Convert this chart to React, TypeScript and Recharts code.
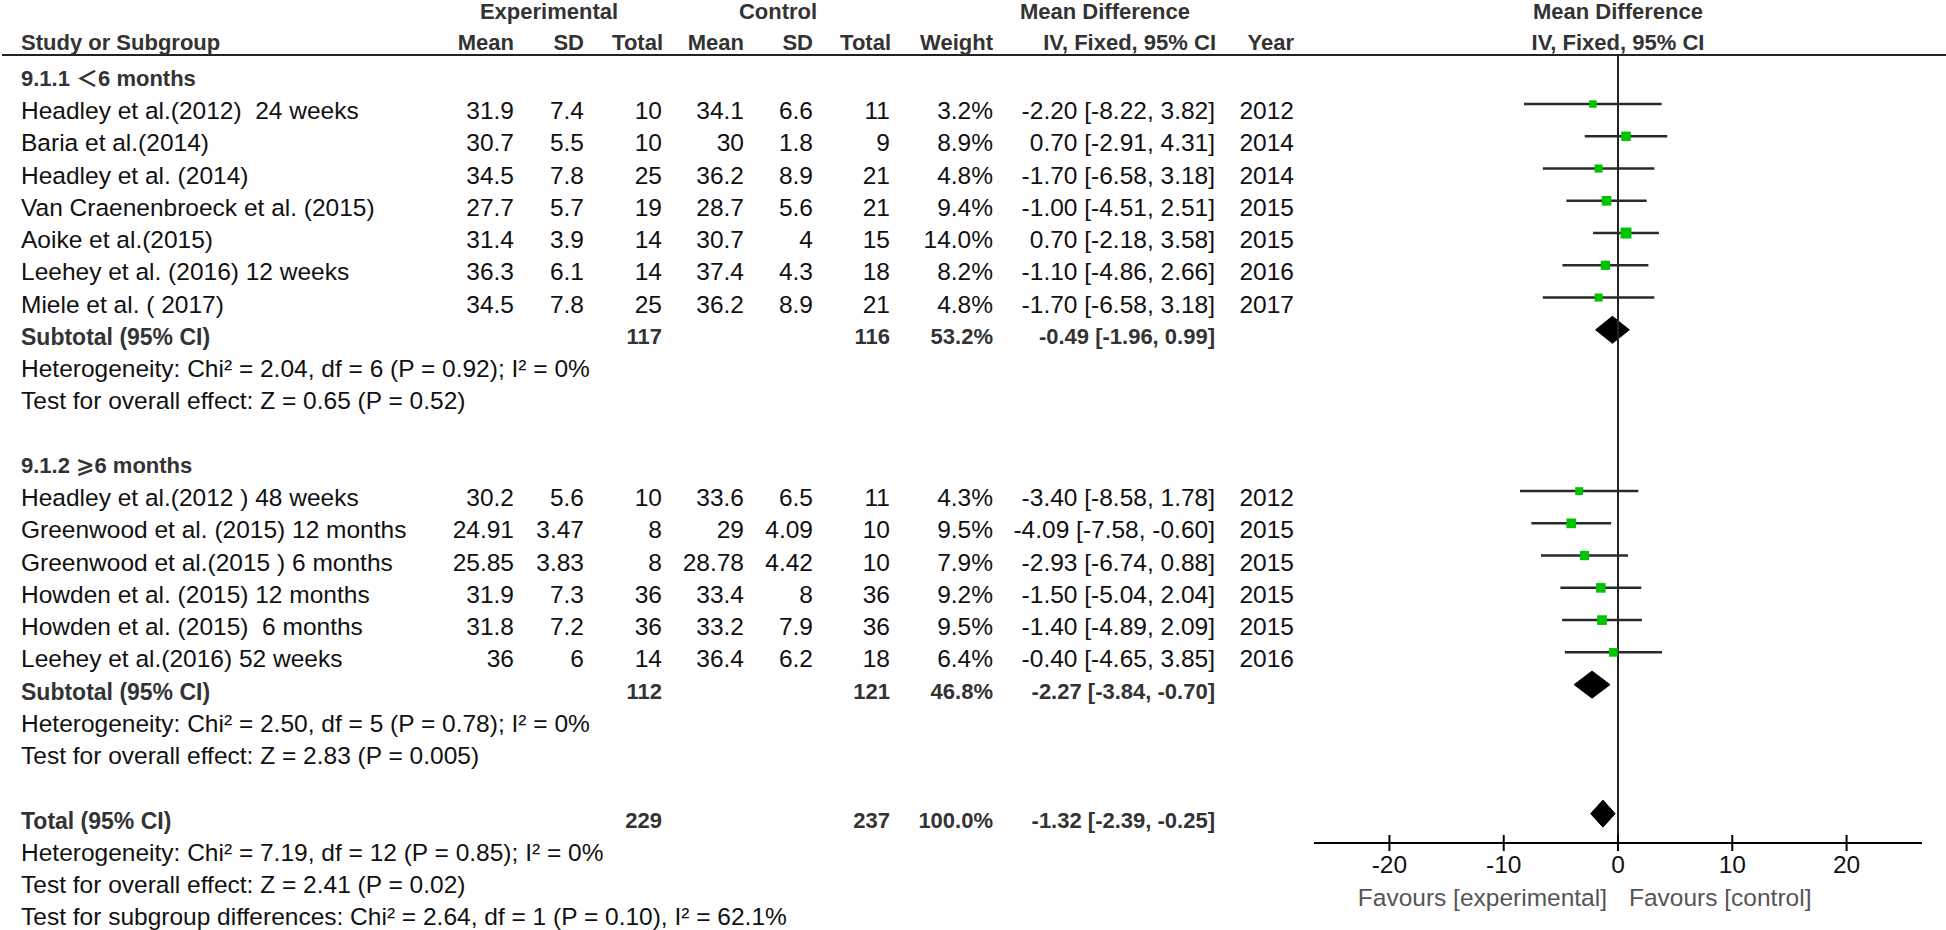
import React from 'react';
import { ComposedChart, XAxis, YAxis, ZAxis, Scatter, Line, Area, ReferenceLine } from 'recharts';

const FONT = '"Liberation Sans", Arial, "Noto Sans CJK SC", "DejaVu Sans", sans-serif';

// ---------- data ----------
const groupTitles = ['9.1.1 \uFF1C6 months', '9.1.2 \u2A7E6 months'];
const studyGroup = [0, 0, 0, 0, 0, 0, 0, 1, 1, 1, 1, 1, 1];
const studyNames = [
  'Headley et al.(2012)  24 weeks',
  'Baria et al.(2014)',
  'Headley et al. (2014)',
  'Van Craenenbroeck et al. (2015)',
  'Aoike et al.(2015)',
  'Leehey et al. (2016) 12 weeks',
  'Miele et al. ( 2017)',
  'Headley et al.(2012 ) 48 weeks',
  'Greenwood et al. (2015) 12 months',
  'Greenwood et al.(2015 ) 6 months',
  'Howden et al. (2015) 12 months',
  'Howden et al. (2015)  6 months',
  'Leehey et al.(2016) 52 weeks',
];
const expMean = [31.9, 30.7, 34.5, 27.7, 31.4, 36.3, 34.5, 30.2, 24.91, 25.85, 31.9, 31.8, 36];
const expSD = [7.4, 5.5, 7.8, 5.7, 3.9, 6.1, 7.8, 5.6, 3.47, 3.83, 7.3, 7.2, 6];
const expTotal = [10, 10, 25, 19, 14, 14, 25, 10, 8, 8, 36, 36, 14];
const ctlMean = [34.1, 30, 36.2, 28.7, 30.7, 37.4, 36.2, 33.6, 29, 28.78, 33.4, 33.2, 36.4];
const ctlSD = [6.6, 1.8, 8.9, 5.6, 4, 4.3, 8.9, 6.5, 4.09, 4.42, 8, 7.9, 6.2];
const ctlTotal = [11, 9, 21, 21, 15, 18, 21, 11, 10, 10, 36, 36, 18];
const weights = [3.2, 8.9, 4.8, 9.4, 14.0, 8.2, 4.8, 4.3, 9.5, 7.9, 9.2, 9.5, 6.4];
const meanDiff = [-2.2, 0.7, -1.7, -1.0, 0.7, -1.1, -1.7, -3.4, -4.09, -2.93, -1.5, -1.4, -0.4];
const ciLow = [-8.22, -2.91, -6.58, -4.51, -2.18, -4.86, -6.58, -8.58, -7.58, -6.74, -5.04, -4.89, -4.65];
const ciHigh = [3.82, 4.31, 3.18, 2.51, 3.58, 2.66, 3.18, 1.78, -0.6, 0.88, 2.04, 2.09, 3.85];
const years = [2012, 2014, 2014, 2015, 2015, 2016, 2017, 2012, 2015, 2015, 2015, 2015, 2016];

const pooledLabels = ['Subtotal (95% CI)', 'Subtotal (95% CI)', 'Total (95% CI)'];
const pooledExpN = [117, 112, 229];
const pooledCtlN = [116, 121, 237];
const pooledWeight = [53.2, 46.8, 100.0];
const pooledMD = [-0.49, -2.27, -1.32];
const pooledLow = [-1.96, -3.84, -2.39];
const pooledHigh = [0.99, -0.7, -0.25];

const groupStats = [
  ['Heterogeneity: Chi\u00B2 = 2.04, df = 6 (P = 0.92); I\u00B2 = 0%', 'Test for overall effect: Z = 0.65 (P = 0.52)'],
  ['Heterogeneity: Chi\u00B2 = 2.50, df = 5 (P = 0.78); I\u00B2 = 0%', 'Test for overall effect: Z = 2.83 (P = 0.005)'],
];
const totalStats = [
  'Heterogeneity: Chi\u00B2 = 7.19, df = 12 (P = 0.85); I\u00B2 = 0%',
  'Test for overall effect: Z = 2.41 (P = 0.02)',
  'Test for subgroup differences: Chi\u00B2 = 2.64, df = 1 (P = 0.10), I\u00B2 = 62.1%',
];
const axisTicks = [-20, -10, 0, 10, 20];
const favoursLabels = ['Favours [experimental]', 'Favours [control]'];

// ---------- layout (row indices) ----------
type RowItem = { kind: string; row: number; idx: number };
const rows: RowItem[] = [];
let r = -1;
groupTitles.forEach((_, g) => {
  rows.push({ kind: 'group', row: r++, idx: g });
  studyGroup.forEach((sg, i) => {
    if (sg === g) rows.push({ kind: 'study', row: r++, idx: i });
  });
  rows.push({ kind: 'pooled', row: r++, idx: g });
  rows.push({ kind: 'stat', row: r++, idx: g * 2 });
  rows.push({ kind: 'stat', row: r++, idx: g * 2 + 1 });
  r++;
});
rows.push({ kind: 'pooled', row: r++, idx: 2 });
totalStats.forEach((_, i) => rows.push({ kind: 'total', row: r++, idx: i }));

const studyRow = (i: number) => rows.find((x) => x.kind === 'study' && x.idx === i)!.row;
const pooledRow = (i: number) => rows.find((x) => x.kind === 'pooled' && x.idx === i)!.row;

const points = meanDiff.map((m, i) => ({ x: m, y: studyRow(i), w: weights[i] }));
const ciSegments = meanDiff.map((_, i) => [
  { x: ciLow[i], y: studyRow(i) },
  { x: ciHigh[i], y: studyRow(i) },
]);
const DH = 0.42;
const diamonds = pooledMD.map((m, i) => {
  const y = pooledRow(i);
  return [
    { x: pooledLow[i], r: [y, y] },
    { x: m, r: [y - DH, y + DH] },
    { x: pooledHigh[i], r: [y, y] },
  ];
});

// ---------- text helpers ----------
const ROW0 = 111;
const ROWH = 32.25;
const rowCY = (row: number) => ROW0 + ROWH * row;

const T = ({ x, cy, align = 'left', bold = false, color, size, children }: any) => {
  const w = 900;
  const left = align === 'right' ? x - w : align === 'center' ? x - w / 2 : x;
  return (
    <div
      style={{
        position: 'absolute',
        left,
        top: cy - 15,
        width: w,
        height: 30,
        lineHeight: '30px',
        textAlign: align,
        fontSize: size ?? (bold ? 22 : 24.5),
        fontWeight: bold ? 700 : 400,
        color: color ?? (bold ? '#333' : '#111'),
        whiteSpace: 'pre',
        fontFamily: FONT,
      }}
    >
      {children}
    </div>
  );
};

const COL = { name: 21, em: 514, esd: 584, en: 662, cm: 744, csd: 813, cn: 890, w: 993, ci: 1215, yr: 1294 };
const fmtCI = (m: number, lo: number, hi: number) => `${m.toFixed(2)} [${lo.toFixed(2)}, ${hi.toFixed(2)}]`;

const AxisTick = (props: any) => {
  const { x, y, payload } = props;
  return (
    <g>
      <line x1={x} x2={x} y1={y - 8} y2={y + 8} stroke="#000" strokeWidth={2} />
      <text x={x} y={y + 21} textAnchor="middle" dominantBaseline="central" fontSize={24.5} fill="#111" fontFamily={FONT}>
        {payload.value}
      </text>
    </g>
  );
};

export default function App() {
  return (
    <div style={{ position: 'absolute', left: 0, top: 0, width: 1946, height: 930, background: '#fff', overflow: 'hidden' }}>
      <div style={{ position: 'absolute', left: 0, top: 0 }}>
        <ComposedChart width={1946} height={930} margin={{ top: 55, right: 24, bottom: 27, left: 1314 }}>
          <XAxis
            type="number"
            dataKey="x"
            domain={[-26.6, 26.6]}
            ticks={axisTicks}
            interval={0}
            allowDataOverflow
            height={60}
            axisLine={{ stroke: '#000', strokeWidth: 2 }}
            tickLine={false}
            tickSize={0}
            tickMargin={0}
            tick={<AxisTick />}
          />
          <YAxis type="number" dataKey="y" domain={[-1.52, 22.91]} reversed hide allowDataOverflow />
          <ZAxis type="number" dataKey="w" domain={[3.2, 14]} range={[56, 121]} />
          <ReferenceLine x={0} stroke="#222" strokeWidth={2} />
          {ciSegments.map((seg, i) => (
            <Line
              key={'ci' + i}
              data={seg}
              dataKey="y"
              type="linear"
              stroke="#2a2a2a"
              strokeWidth={2.5}
              dot={false}
              activeDot={false}
              isAnimationActive={false}
              legendType="none"
            />
          ))}
          {diamonds.map((d, i) => (
            <Area
              key={'d' + i}
              data={d}
              dataKey="r"
              type="linear"
              stroke="#000"
              strokeWidth={1}
              fill="#000"
              fillOpacity={1}
              dot={false}
              activeDot={false}
              isAnimationActive={false}
              legendType="none"
            />
          ))}
          <Scatter data={points} fill="#00c400" shape="square" isAnimationActive={false} legendType="none" />
        </ComposedChart>
      </div>

      {/* header line */}
      <div style={{ position: 'absolute', left: 2, top: 53.5, width: 1944, height: 2.5, background: '#222' }} />

      {/* headers */}
      <T x={549} cy={12} align="center" bold>Experimental</T>
      <T x={778} cy={12} align="center" bold>Control</T>
      <T x={1105} cy={12} align="center" bold>Mean Difference</T>
      <T x={1618} cy={12} align="center" bold>Mean Difference</T>
      <T x={COL.name} cy={43} bold>Study or Subgroup</T>
      <T x={COL.em} cy={43} align="right" bold>Mean</T>
      <T x={COL.esd} cy={43} align="right" bold>SD</T>
      <T x={COL.en + 1} cy={43} align="right" bold>Total</T>
      <T x={COL.cm} cy={43} align="right" bold>Mean</T>
      <T x={COL.csd} cy={43} align="right" bold>SD</T>
      <T x={COL.cn + 1} cy={43} align="right" bold>Total</T>
      <T x={COL.w} cy={43} align="right" bold>Weight</T>
      <T x={COL.ci + 1} cy={43} align="right" bold>IV, Fixed, 95% CI</T>
      <T x={COL.yr} cy={43} align="right" bold>Year</T>
      <T x={1618} cy={43} align="center" bold>IV, Fixed, 95% CI</T>

      {rows.map((it, k) => {
        const cy = rowCY(it.row);
        if (it.kind === 'group')
          return <T key={k} x={COL.name} cy={cy} bold>{groupTitles[it.idx]}</T>;
        if (it.kind === 'stat')
          return <T key={k} x={COL.name} cy={cy}>{groupStats[Math.floor(it.idx / 2)][it.idx % 2]}</T>;
        if (it.kind === 'total')
          return <T key={k} x={COL.name} cy={cy}>{totalStats[it.idx]}</T>;
        if (it.kind === 'pooled') {
          const i = it.idx;
          return (
            <React.Fragment key={k}>
              <T x={COL.name} cy={cy} bold size={23}>{pooledLabels[i]}</T>
              <T x={COL.en} cy={cy} align="right" bold>{String(pooledExpN[i])}</T>
              <T x={COL.cn} cy={cy} align="right" bold>{String(pooledCtlN[i])}</T>
              <T x={COL.w} cy={cy} align="right" bold>{pooledWeight[i].toFixed(1) + '%'}</T>
              <T x={COL.ci} cy={cy} align="right" bold>{fmtCI(pooledMD[i], pooledLow[i], pooledHigh[i])}</T>
            </React.Fragment>
          );
        }
        const i = it.idx;
        return (
          <React.Fragment key={k}>
            <T x={COL.name} cy={cy}>{studyNames[i]}</T>
            <T x={COL.em} cy={cy} align="right">{String(expMean[i])}</T>
            <T x={COL.esd} cy={cy} align="right">{String(expSD[i])}</T>
            <T x={COL.en} cy={cy} align="right">{String(expTotal[i])}</T>
            <T x={COL.cm} cy={cy} align="right">{String(ctlMean[i])}</T>
            <T x={COL.csd} cy={cy} align="right">{String(ctlSD[i])}</T>
            <T x={COL.cn} cy={cy} align="right">{String(ctlTotal[i])}</T>
            <T x={COL.w} cy={cy} align="right">{weights[i].toFixed(1) + '%'}</T>
            <T x={COL.ci} cy={cy} align="right">{fmtCI(meanDiff[i], ciLow[i], ciHigh[i])}</T>
            <T x={COL.yr} cy={cy} align="right">{String(years[i])}</T>
          </React.Fragment>
        );
      })}

      <T x={1607} cy={898} align="right" color="#555">{favoursLabels[0]}</T>
      <T x={1629} cy={898} color="#555">{favoursLabels[1]}</T>
    </div>
  );
}
